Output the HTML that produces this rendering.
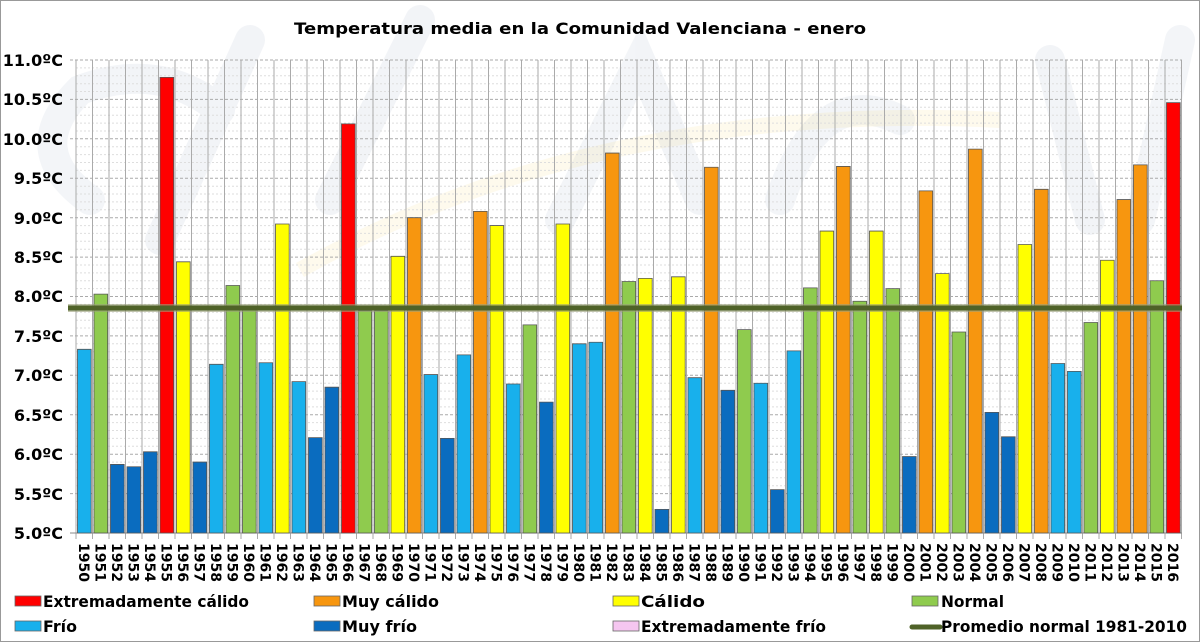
<!DOCTYPE html>
<html><head><meta charset="utf-8"><style>
html,body{margin:0;padding:0;background:#fff}
svg{display:block}
.t{font-family:"DejaVu Sans","Liberation Sans",sans-serif;font-weight:bold;fill:#000}
.ec{fill:#ff0000}.mc{fill:#f7960f}.c{fill:#ffff00}.n{fill:#8fcb4e}.f{fill:#18b0ec}.mf{fill:#0a6cbf}
.b rect{stroke:#555;stroke-width:0.8}
</style></head><body>
<svg width="1200" height="642" viewBox="0 0 1200 642" xmlns="http://www.w3.org/2000/svg">
<rect x="0.5" y="0.5" width="1199" height="641" fill="#fff" stroke="#999"/>
<g opacity="0.07" fill="none" stroke="#5a6e9c" stroke-width="30" stroke-linecap="round">
<path d="M90 200 Q20 150 80 90 Q160 60 220 110"/>
<path d="M160 240 L250 40"/><path d="M330 200 L420 20"/>
<path d="M560 220 L640 60 L700 200"/><path d="M780 200 Q820 80 900 120"/>
<path d="M1050 60 L1090 220"/><path d="M1140 220 L1180 40"/>
</g>
<path d="M300 270 Q600 100 1000 120" fill="none" stroke="#f3d36a" stroke-width="16" opacity="0.12"/>
<text class="t" x="580" y="34" font-size="16" text-anchor="middle" textLength="572" lengthAdjust="spacingAndGlyphs">Temperatura media en la Comunidad Valenciana - enero</text>
<g stroke="#dedede" stroke-width="1" stroke-dasharray="2,2">
<line x1="76" x2="1182" y1="525.1" y2="525.1"/><line x1="76" x2="1182" y1="517.2" y2="517.2"/><line x1="76" x2="1182" y1="509.4" y2="509.4"/><line x1="76" x2="1182" y1="501.5" y2="501.5"/>
<line x1="76" x2="1182" y1="485.7" y2="485.7"/><line x1="76" x2="1182" y1="477.8" y2="477.8"/><line x1="76" x2="1182" y1="469.9" y2="469.9"/><line x1="76" x2="1182" y1="462.1" y2="462.1"/>
<line x1="76" x2="1182" y1="446.3" y2="446.3"/><line x1="76" x2="1182" y1="438.4" y2="438.4"/><line x1="76" x2="1182" y1="430.5" y2="430.5"/><line x1="76" x2="1182" y1="422.6" y2="422.6"/>
<line x1="76" x2="1182" y1="406.9" y2="406.9"/><line x1="76" x2="1182" y1="399.0" y2="399.0"/><line x1="76" x2="1182" y1="391.1" y2="391.1"/><line x1="76" x2="1182" y1="383.2" y2="383.2"/>
<line x1="76" x2="1182" y1="367.5" y2="367.5"/><line x1="76" x2="1182" y1="359.6" y2="359.6"/><line x1="76" x2="1182" y1="351.7" y2="351.7"/><line x1="76" x2="1182" y1="343.8" y2="343.8"/>
<line x1="76" x2="1182" y1="328.0" y2="328.0"/><line x1="76" x2="1182" y1="320.2" y2="320.2"/><line x1="76" x2="1182" y1="312.3" y2="312.3"/><line x1="76" x2="1182" y1="304.4" y2="304.4"/>
<line x1="76" x2="1182" y1="288.6" y2="288.6"/><line x1="76" x2="1182" y1="280.7" y2="280.7"/><line x1="76" x2="1182" y1="272.9" y2="272.9"/><line x1="76" x2="1182" y1="265.0" y2="265.0"/>
<line x1="76" x2="1182" y1="249.2" y2="249.2"/><line x1="76" x2="1182" y1="241.3" y2="241.3"/><line x1="76" x2="1182" y1="233.4" y2="233.4"/><line x1="76" x2="1182" y1="225.6" y2="225.6"/>
<line x1="76" x2="1182" y1="209.8" y2="209.8"/><line x1="76" x2="1182" y1="201.9" y2="201.9"/><line x1="76" x2="1182" y1="194.0" y2="194.0"/><line x1="76" x2="1182" y1="186.2" y2="186.2"/>
<line x1="76" x2="1182" y1="170.4" y2="170.4"/><line x1="76" x2="1182" y1="162.5" y2="162.5"/><line x1="76" x2="1182" y1="154.6" y2="154.6"/><line x1="76" x2="1182" y1="146.7" y2="146.7"/>
<line x1="76" x2="1182" y1="131.0" y2="131.0"/><line x1="76" x2="1182" y1="123.1" y2="123.1"/><line x1="76" x2="1182" y1="115.2" y2="115.2"/><line x1="76" x2="1182" y1="107.3" y2="107.3"/>
<line x1="76" x2="1182" y1="91.5" y2="91.5"/><line x1="76" x2="1182" y1="83.7" y2="83.7"/><line x1="76" x2="1182" y1="75.8" y2="75.8"/><line x1="76" x2="1182" y1="67.9" y2="67.9"/>
</g>
<g stroke="#aaa" stroke-width="1" stroke-dasharray="3,2">
<line x1="70" x2="1182" y1="493.6" y2="493.6"/><line x1="70" x2="1182" y1="454.2" y2="454.2"/><line x1="70" x2="1182" y1="414.8" y2="414.8"/><line x1="70" x2="1182" y1="375.3" y2="375.3"/><line x1="70" x2="1182" y1="335.9" y2="335.9"/><line x1="70" x2="1182" y1="296.5" y2="296.5"/><line x1="70" x2="1182" y1="257.1" y2="257.1"/><line x1="70" x2="1182" y1="217.7" y2="217.7"/><line x1="70" x2="1182" y1="178.3" y2="178.3"/><line x1="70" x2="1182" y1="138.8" y2="138.8"/><line x1="70" x2="1182" y1="99.4" y2="99.4"/><line x1="70" x2="1182" y1="60" y2="60"/>
</g>
<g transform="translate(76,0) scale(16.5,1)" stroke="#aaa" stroke-width="1">
<path vector-effect="non-scaling-stroke" d="M0 60V539M1 60V539M2 60V539M3 60V539M4 60V539M5 60V539M6 60V539M7 60V539M8 60V539M9 60V539M10 60V539M11 60V539M12 60V539M13 60V539M14 60V539M15 60V539M16 60V539M17 60V539M18 60V539M19 60V539M20 60V539M21 60V539M22 60V539M23 60V539M24 60V539M25 60V539M26 60V539M27 60V539M28 60V539M29 60V539M30 60V539M31 60V539M32 60V539M33 60V539M34 60V539M35 60V539M36 60V539M37 60V539M38 60V539M39 60V539M40 60V539M41 60V539M42 60V539M43 60V539M44 60V539M45 60V539M46 60V539M47 60V539M48 60V539M49 60V539M50 60V539M51 60V539M52 60V539M53 60V539M54 60V539M55 60V539M56 60V539M57 60V539M58 60V539M59 60V539M60 60V539M61 60V539M62 60V539M63 60V539M64 60V539M65 60V539M66 60V539M67 60V539"/>
</g>
<line x1="70" x2="1182" y1="533" y2="533" stroke="#888"/>
<g class="b" transform="translate(76,533) scale(16.5,-78.83)">
<rect vector-effect="non-scaling-stroke" class="f" x="0.09" width="0.83" y="0" height="2.33"/>
<rect vector-effect="non-scaling-stroke" class="n" x="1.09" width="0.83" y="0" height="3.03"/>
<rect vector-effect="non-scaling-stroke" class="mf" x="2.09" width="0.83" y="0" height="0.87"/>
<rect vector-effect="non-scaling-stroke" class="mf" x="3.09" width="0.83" y="0" height="0.84"/>
<rect vector-effect="non-scaling-stroke" class="mf" x="4.09" width="0.83" y="0" height="1.03"/>
<rect vector-effect="non-scaling-stroke" class="ec" x="5.09" width="0.83" y="0" height="5.78"/>
<rect vector-effect="non-scaling-stroke" class="c" x="6.09" width="0.83" y="0" height="3.44"/>
<rect vector-effect="non-scaling-stroke" class="mf" x="7.09" width="0.83" y="0" height="0.90"/>
<rect vector-effect="non-scaling-stroke" class="f" x="8.09" width="0.83" y="0" height="2.14"/>
<rect vector-effect="non-scaling-stroke" class="n" x="9.09" width="0.83" y="0" height="3.14"/>
<rect vector-effect="non-scaling-stroke" class="n" x="10.09" width="0.83" y="0" height="2.85"/>
<rect vector-effect="non-scaling-stroke" class="f" x="11.09" width="0.83" y="0" height="2.16"/>
<rect vector-effect="non-scaling-stroke" class="c" x="12.09" width="0.83" y="0" height="3.92"/>
<rect vector-effect="non-scaling-stroke" class="f" x="13.09" width="0.83" y="0" height="1.92"/>
<rect vector-effect="non-scaling-stroke" class="mf" x="14.09" width="0.83" y="0" height="1.21"/>
<rect vector-effect="non-scaling-stroke" class="mf" x="15.09" width="0.83" y="0" height="1.85"/>
<rect vector-effect="non-scaling-stroke" class="ec" x="16.09" width="0.83" y="0" height="5.19"/>
<rect vector-effect="non-scaling-stroke" class="n" x="17.09" width="0.83" y="0" height="2.82"/>
<rect vector-effect="non-scaling-stroke" class="n" x="18.09" width="0.83" y="0" height="2.82"/>
<rect vector-effect="non-scaling-stroke" class="c" x="19.09" width="0.83" y="0" height="3.51"/>
<rect vector-effect="non-scaling-stroke" class="mc" x="20.09" width="0.83" y="0" height="4.00"/>
<rect vector-effect="non-scaling-stroke" class="f" x="21.09" width="0.83" y="0" height="2.01"/>
<rect vector-effect="non-scaling-stroke" class="mf" x="22.09" width="0.83" y="0" height="1.20"/>
<rect vector-effect="non-scaling-stroke" class="f" x="23.09" width="0.83" y="0" height="2.26"/>
<rect vector-effect="non-scaling-stroke" class="mc" x="24.09" width="0.83" y="0" height="4.08"/>
<rect vector-effect="non-scaling-stroke" class="c" x="25.09" width="0.83" y="0" height="3.90"/>
<rect vector-effect="non-scaling-stroke" class="f" x="26.09" width="0.83" y="0" height="1.89"/>
<rect vector-effect="non-scaling-stroke" class="n" x="27.09" width="0.83" y="0" height="2.64"/>
<rect vector-effect="non-scaling-stroke" class="mf" x="28.09" width="0.83" y="0" height="1.66"/>
<rect vector-effect="non-scaling-stroke" class="c" x="29.09" width="0.83" y="0" height="3.92"/>
<rect vector-effect="non-scaling-stroke" class="f" x="30.09" width="0.83" y="0" height="2.40"/>
<rect vector-effect="non-scaling-stroke" class="f" x="31.09" width="0.83" y="0" height="2.42"/>
<rect vector-effect="non-scaling-stroke" class="mc" x="32.09" width="0.83" y="0" height="4.82"/>
<rect vector-effect="non-scaling-stroke" class="n" x="33.09" width="0.83" y="0" height="3.19"/>
<rect vector-effect="non-scaling-stroke" class="c" x="34.09" width="0.83" y="0" height="3.23"/>
<rect vector-effect="non-scaling-stroke" class="mf" x="35.09" width="0.83" y="0" height="0.30"/>
<rect vector-effect="non-scaling-stroke" class="c" x="36.09" width="0.83" y="0" height="3.25"/>
<rect vector-effect="non-scaling-stroke" class="f" x="37.09" width="0.83" y="0" height="1.97"/>
<rect vector-effect="non-scaling-stroke" class="mc" x="38.09" width="0.83" y="0" height="4.64"/>
<rect vector-effect="non-scaling-stroke" class="mf" x="39.09" width="0.83" y="0" height="1.81"/>
<rect vector-effect="non-scaling-stroke" class="n" x="40.09" width="0.83" y="0" height="2.58"/>
<rect vector-effect="non-scaling-stroke" class="f" x="41.09" width="0.83" y="0" height="1.90"/>
<rect vector-effect="non-scaling-stroke" class="mf" x="42.09" width="0.83" y="0" height="0.55"/>
<rect vector-effect="non-scaling-stroke" class="f" x="43.09" width="0.83" y="0" height="2.31"/>
<rect vector-effect="non-scaling-stroke" class="n" x="44.09" width="0.83" y="0" height="3.11"/>
<rect vector-effect="non-scaling-stroke" class="c" x="45.09" width="0.83" y="0" height="3.83"/>
<rect vector-effect="non-scaling-stroke" class="mc" x="46.09" width="0.83" y="0" height="4.65"/>
<rect vector-effect="non-scaling-stroke" class="n" x="47.09" width="0.83" y="0" height="2.94"/>
<rect vector-effect="non-scaling-stroke" class="c" x="48.09" width="0.83" y="0" height="3.83"/>
<rect vector-effect="non-scaling-stroke" class="n" x="49.09" width="0.83" y="0" height="3.10"/>
<rect vector-effect="non-scaling-stroke" class="mf" x="50.09" width="0.83" y="0" height="0.97"/>
<rect vector-effect="non-scaling-stroke" class="mc" x="51.09" width="0.83" y="0" height="4.34"/>
<rect vector-effect="non-scaling-stroke" class="c" x="52.09" width="0.83" y="0" height="3.29"/>
<rect vector-effect="non-scaling-stroke" class="n" x="53.09" width="0.83" y="0" height="2.55"/>
<rect vector-effect="non-scaling-stroke" class="mc" x="54.09" width="0.83" y="0" height="4.87"/>
<rect vector-effect="non-scaling-stroke" class="mf" x="55.09" width="0.83" y="0" height="1.53"/>
<rect vector-effect="non-scaling-stroke" class="mf" x="56.09" width="0.83" y="0" height="1.22"/>
<rect vector-effect="non-scaling-stroke" class="c" x="57.09" width="0.83" y="0" height="3.66"/>
<rect vector-effect="non-scaling-stroke" class="mc" x="58.09" width="0.83" y="0" height="4.36"/>
<rect vector-effect="non-scaling-stroke" class="f" x="59.09" width="0.83" y="0" height="2.15"/>
<rect vector-effect="non-scaling-stroke" class="f" x="60.09" width="0.83" y="0" height="2.05"/>
<rect vector-effect="non-scaling-stroke" class="n" x="61.09" width="0.83" y="0" height="2.67"/>
<rect vector-effect="non-scaling-stroke" class="c" x="62.09" width="0.83" y="0" height="3.46"/>
<rect vector-effect="non-scaling-stroke" class="mc" x="63.09" width="0.83" y="0" height="4.23"/>
<rect vector-effect="non-scaling-stroke" class="mc" x="64.09" width="0.83" y="0" height="4.67"/>
<rect vector-effect="non-scaling-stroke" class="n" x="65.09" width="0.83" y="0" height="3.20"/>
<rect vector-effect="non-scaling-stroke" class="ec" x="66.09" width="0.83" y="0" height="5.46"/>
</g>
<line x1="68" x2="1182" y1="308" y2="308" stroke="#9aa07a" stroke-width="8" opacity="0.6"/>
<line x1="68" x2="1182" y1="308" y2="308" stroke="#4f6228" stroke-width="5"/>
<g class="t" font-size="16" text-anchor="end">
<text x="63" y="539">5.0ºC</text><text x="63" y="500">5.5ºC</text><text x="63" y="460">6.0ºC</text><text x="63" y="421">6.5ºC</text><text x="63" y="381">7.0ºC</text><text x="63" y="342">7.5ºC</text><text x="63" y="302">8.0ºC</text><text x="63" y="263">8.5ºC</text><text x="63" y="224">9.0ºC</text><text x="63" y="184">9.5ºC</text><text x="63" y="145">10.0ºC</text><text x="63" y="105">10.5ºC</text><text x="63" y="66">11.0ºC</text>
</g>
<g class="t" font-size="14">
<text transform="translate(79,543) rotate(90)">1950</text><text transform="translate(95.5,543) rotate(90)">1951</text><text transform="translate(112,543) rotate(90)">1952</text><text transform="translate(128.5,543) rotate(90)">1953</text><text transform="translate(145,543) rotate(90)">1954</text><text transform="translate(161.5,543) rotate(90)">1955</text><text transform="translate(178,543) rotate(90)">1956</text><text transform="translate(194.5,543) rotate(90)">1957</text><text transform="translate(211,543) rotate(90)">1958</text><text transform="translate(227.5,543) rotate(90)">1959</text>
<text transform="translate(244,543) rotate(90)">1960</text><text transform="translate(260.5,543) rotate(90)">1961</text><text transform="translate(277,543) rotate(90)">1962</text><text transform="translate(293.5,543) rotate(90)">1963</text><text transform="translate(310,543) rotate(90)">1964</text><text transform="translate(326.5,543) rotate(90)">1965</text><text transform="translate(343,543) rotate(90)">1966</text><text transform="translate(359.5,543) rotate(90)">1967</text><text transform="translate(376,543) rotate(90)">1968</text><text transform="translate(392.5,543) rotate(90)">1969</text>
<text transform="translate(409,543) rotate(90)">1970</text><text transform="translate(425.5,543) rotate(90)">1971</text><text transform="translate(442,543) rotate(90)">1972</text><text transform="translate(458.5,543) rotate(90)">1973</text><text transform="translate(475,543) rotate(90)">1974</text><text transform="translate(491.5,543) rotate(90)">1975</text><text transform="translate(508,543) rotate(90)">1976</text><text transform="translate(524.5,543) rotate(90)">1977</text><text transform="translate(541,543) rotate(90)">1978</text><text transform="translate(557.5,543) rotate(90)">1979</text>
<text transform="translate(574,543) rotate(90)">1980</text><text transform="translate(590.5,543) rotate(90)">1981</text><text transform="translate(607,543) rotate(90)">1982</text><text transform="translate(623.5,543) rotate(90)">1983</text><text transform="translate(640,543) rotate(90)">1984</text><text transform="translate(656.5,543) rotate(90)">1985</text><text transform="translate(673,543) rotate(90)">1986</text><text transform="translate(689.5,543) rotate(90)">1987</text><text transform="translate(706,543) rotate(90)">1988</text><text transform="translate(722.5,543) rotate(90)">1989</text>
<text transform="translate(739,543) rotate(90)">1990</text><text transform="translate(755.5,543) rotate(90)">1991</text><text transform="translate(772,543) rotate(90)">1992</text><text transform="translate(788.5,543) rotate(90)">1993</text><text transform="translate(805,543) rotate(90)">1994</text><text transform="translate(821.5,543) rotate(90)">1995</text><text transform="translate(838,543) rotate(90)">1996</text><text transform="translate(854.5,543) rotate(90)">1997</text><text transform="translate(871,543) rotate(90)">1998</text><text transform="translate(887.5,543) rotate(90)">1999</text>
<text transform="translate(904,543) rotate(90)">2000</text><text transform="translate(920.5,543) rotate(90)">2001</text><text transform="translate(937,543) rotate(90)">2002</text><text transform="translate(953.5,543) rotate(90)">2003</text><text transform="translate(970,543) rotate(90)">2004</text><text transform="translate(986.5,543) rotate(90)">2005</text><text transform="translate(1003,543) rotate(90)">2006</text><text transform="translate(1019.5,543) rotate(90)">2007</text><text transform="translate(1036,543) rotate(90)">2008</text><text transform="translate(1052.5,543) rotate(90)">2009</text>
<text transform="translate(1069,543) rotate(90)">2010</text><text transform="translate(1085.5,543) rotate(90)">2011</text><text transform="translate(1102,543) rotate(90)">2012</text><text transform="translate(1118.5,543) rotate(90)">2013</text><text transform="translate(1135,543) rotate(90)">2014</text><text transform="translate(1151.5,543) rotate(90)">2015</text><text transform="translate(1168,543) rotate(90)">2016</text>
</g>
<g stroke="#666" stroke-width="0.8">
<rect class="ec" x="15" y="596" width="26" height="10"/>
<rect class="mc" x="314" y="596" width="26" height="10"/>
<rect class="c" x="613" y="596" width="26" height="10"/>
<rect class="n" x="912" y="596" width="26" height="10"/>
<rect class="f" x="15" y="621" width="26" height="10"/>
<rect class="mf" x="314" y="621" width="26" height="10"/>
<rect fill="#f5c6f0" x="613" y="621" width="26" height="10"/>
</g>
<line x1="912" x2="940" y1="627" y2="627" stroke="#4f6228" stroke-width="5" stroke-linecap="round"/>
<g class="t" font-size="16">
<text x="43" y="607" textLength="206" lengthAdjust="spacingAndGlyphs">Extremadamente cálido</text>
<text x="342" y="607" textLength="97" lengthAdjust="spacingAndGlyphs">Muy cálido</text>
<text x="641" y="607" textLength="64" lengthAdjust="spacingAndGlyphs">Cálido</text>
<text x="941" y="607" textLength="63" lengthAdjust="spacingAndGlyphs">Normal</text>
<text x="43" y="632" textLength="34" lengthAdjust="spacingAndGlyphs">Frío</text>
<text x="342" y="632" textLength="75" lengthAdjust="spacingAndGlyphs">Muy frío</text>
<text x="641" y="632" textLength="185" lengthAdjust="spacingAndGlyphs">Extremadamente frío</text>
<text x="941" y="632" textLength="246" lengthAdjust="spacingAndGlyphs">Promedio normal 1981-2010</text>
</g>
</svg>
</body></html>
